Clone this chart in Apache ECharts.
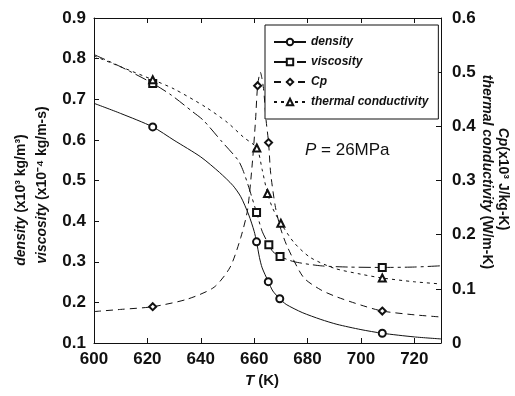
<!DOCTYPE html>
<html><head><meta charset="utf-8">
<script src="https://cdn.jsdelivr.net/npm/echarts@6/dist/echarts.min.js"></script>
<style>html,body{margin:0;padding:0;background:#fff}#c{width:515px;height:396px}</style>
</head><body><div id="c"></div>
<script>
// Temperature (K) and values
const densityT = [600,610,622,630,640,647,652,655,658,660,660.9,662,663,665.3,667,669.6,672,678,685,691,700,708,720,730];
const densityV = [0.69,0.665,0.632,0.599,0.558,0.52,0.488,0.46,0.415,0.375,0.349,0.31,0.285,0.251,0.228,0.209,0.195,0.175,0.158,0.146,0.133,0.124,0.115,0.11];
const densityMarks = [622,660.9,665.3,669.6,708];

const viscT = [600,610,622,629,637,641,648,654,656,658,660.9,663,665.5,667,669.7,675,685,695,708,720,730];
const viscV = [0.81,0.78,0.739,0.71,0.669,0.648,0.595,0.55,0.522,0.483,0.421,0.375,0.342,0.325,0.313,0.300,0.290,0.287,0.286,0.287,0.29];
const viscMarks = [622,660.9,665.5,669.7,708];

const cpT = [600,610,622,635,645,651,655,657.5,659.4,660.5,661.3,662.3,663.5,664.5,665.4,666.2,668,670,672.5,678.5,685,691,700,708,720,730];
const cpV = [0.058,0.062,0.067,0.081,0.103,0.14,0.195,0.245,0.337,0.41,0.475,0.5,0.47,0.41,0.37,0.313,0.25,0.21,0.177,0.121,0.098,0.085,0.07,0.059,0.052,0.048];
const cpMarks = [622,661.3,665.4,708];

const tcT = [600,610,622,630,642,650,656,661,663,665,667,670,675,681,690,700,708,720,730];
const tcV = [0.53,0.51,0.486,0.469,0.435,0.407,0.38,0.36,0.32,0.276,0.248,0.221,0.185,0.158,0.138,0.127,0.12,0.113,0.109];
const tcMarks = [622,661,665,670,708];

const xTicks = [600,620,640,660,680,700,720];
const leftTicks = [0.1,0.2,0.3,0.4,0.5,0.6,0.7,0.8,0.9];
const rightTicks = [0,0.1,0.2,0.3,0.4,0.5,0.6];

function build(ts, vs, marks){
  return ts.map((t,i)=> marks.includes(t) ? {value:[t,vs[i]]} : {value:[t,vs[i]], symbol:'none'});
}
const FONT = '"Liberation Sans", Arial, sans-serif';
const ink = '#111';
const chart = echarts.init(document.getElementById('c'), null, {renderer:'canvas'});
const lab = {color:ink, fontFamily:FONT, fontWeight:'bold', fontSize:17};
const mkLine = (name, ts, vs, marks, sym, dash, yIdx) => ({
  name, type:'line', xAxisIndex:0, yAxisIndex:yIdx, data:build(ts,vs,marks),
  symbol:sym, symbolSize:7, showSymbol:true, smooth:0.25,
  lineStyle:{color:ink, width:1, type:dash}, itemStyle:{color:ink, borderColor:ink, borderWidth:1},
  emphasis:{disabled:true}, animation:false, z:3
});
chart.setOption({
  animation:false,
  backgroundColor:'#fff',
  grid:{left:94, right:74, top:18, bottom:53},
  legend:{
    orient:'vertical', left:265, top:25, itemWidth:32, itemHeight:8, itemGap:6,
    padding:[10,10,10,8], borderColor:ink, borderWidth:1, backgroundColor:'#fff',
    textStyle:{fontFamily:FONT, fontStyle:'italic', fontWeight:'bold', fontSize:12, color:ink, lineHeight:14},
    data:['density','viscosity','Cp','thermal conductivity']
  },
  xAxis:[
    {type:'value', min:600, max:730, interval:20, position:'bottom',
     axisLine:{lineStyle:{color:ink}}, axisTick:{inside:true, length:5, lineStyle:{color:ink}},
     splitLine:{show:false}, axisLabel:Object.assign({margin:8, showMaxLabel:false, formatter:v=> xTicks.includes(v)?String(v):''}, lab)},
    {type:'value', min:600, max:730, interval:20, position:'top',
     axisLine:{lineStyle:{color:ink}}, axisTick:{inside:true, length:5, lineStyle:{color:ink}},
     splitLine:{show:false}, axisLabel:{show:false}}
  ],
  yAxis:[
    {type:'value', min:0.1, max:0.9, interval:0.1, position:'left',
     axisLine:{show:true, lineStyle:{color:ink}}, axisTick:{inside:true, length:5, lineStyle:{color:ink}},
     splitLine:{show:false}, axisLabel:Object.assign({margin:8, formatter:v=>{const t=leftTicks.find(x=>Math.abs(x-v)<1e-6);return t===undefined?'':t.toFixed(1);}}, lab)},
    {type:'value', min:0, max:0.6, interval:0.1, position:'right',
     axisLine:{show:true, lineStyle:{color:ink}}, axisTick:{inside:true, length:5, lineStyle:{color:ink}},
     splitLine:{show:false}, axisLabel:Object.assign({margin:11, formatter:v=>{const t=rightTicks.find(x=>Math.abs(x-v)<1e-6);return t===undefined?'':(t===0?'0':t.toFixed(1));}}, lab)}
  ],
  series:[
    mkLine('density', densityT, densityV, densityMarks, 'emptyCircle', 'solid', 0),
    mkLine('viscosity', viscT, viscV, viscMarks, 'emptyRect', [12,4,3,4], 0),
    mkLine('Cp', cpT, cpV, cpMarks, 'emptyDiamond', [7,5], 1),
    mkLine('thermal conductivity', tcT, tcV, tcMarks, 'emptyTriangle', [3,4], 1)
  ],
  graphic:[
    {type:'text', left:305, top:142, style:{text:'{i|P} = 26MPa', font:'17px '+FONT, fill:ink,
      rich:{i:{fontStyle:'italic', fontSize:17, fontFamily:FONT, fill:ink}}}},
    {type:'text', x:262, y:381, style:{text:'{i|T} (K)', font:'bold 15px '+FONT, fill:ink, align:'center', verticalAlign:'middle',
      rich:{i:{fontStyle:'italic', fontWeight:'bold', fontSize:15, fontFamily:FONT}}}},
    {type:'text', x:21, y:200, rotation:Math.PI/2, style:{text:'{i|density} (x10³ kg/m³)', font:'bold 14px '+FONT, fill:ink, align:'center', verticalAlign:'middle',
      rich:{i:{fontStyle:'italic', fontWeight:'bold', fontSize:14, fontFamily:FONT}}}},
    {type:'text', x:42, y:185, rotation:Math.PI/2, style:{text:'{i|viscosity} (x10⁻⁴ kg/m-s)', font:'bold 14px '+FONT, fill:ink, align:'center', verticalAlign:'middle',
      rich:{i:{fontStyle:'italic', fontWeight:'bold', fontSize:14, fontFamily:FONT}}}},
    {type:'text', x:503, y:179, rotation:-Math.PI/2, style:{text:'{i|Cp}(x10³ J/kg-K)', font:'bold 14px '+FONT, fill:ink, align:'center', verticalAlign:'middle',
      rich:{i:{fontStyle:'italic', fontWeight:'bold', fontSize:14, fontFamily:FONT}}}},
    {type:'text', x:487, y:172, rotation:-Math.PI/2, style:{text:'{i|thermal conductivity} (W/m-K)', font:'bold 14px '+FONT, fill:ink, align:'center', verticalAlign:'middle',
      rich:{i:{fontStyle:'italic', fontWeight:'bold', fontSize:14, fontFamily:FONT}}}}
  ]
});
</script></body></html>
